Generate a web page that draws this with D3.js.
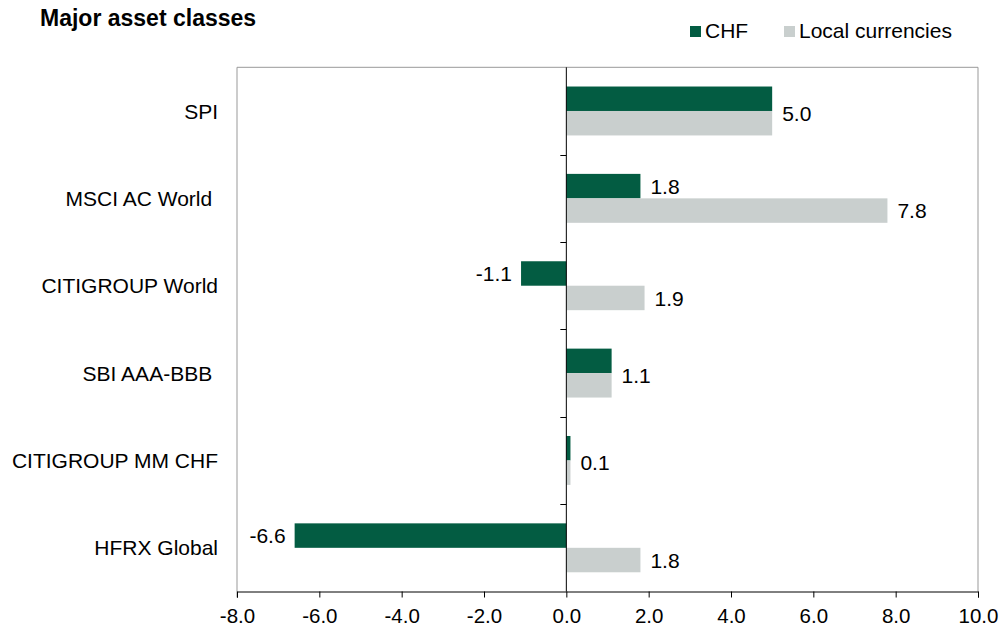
<!DOCTYPE html>
<html>
<head>
<meta charset="utf-8">
<script src="https://cdn.jsdelivr.net/npm/d3@7"></script>
<style>
  body { margin: 0; background: #fff; }
  text { font-family: "Liberation Sans", Arial, sans-serif; fill: #000; }
</style>
</head>
<body>
<svg id="chart" width="1000" height="633"></svg>
<script>
// chart data
const categories = ["SPI", "MSCI AC World ", "CITIGROUP World", "SBI AAA-BBB ", "CITIGROUP MM CHF", "HFRX Global"];
const chfValues = [5.0, 1.8, -1.1, 1.1, 0.1, -6.6];
const localValues = [5.0, 7.8, 1.9, 1.1, 0.1, 1.8];
const seriesNames = ["CHF", "Local currencies"];
const seriesColors = ["#035c42", "#c9cfce"];
const xTicks = [-8, -6, -4, -2, 0, 2, 4, 6, 8, 10];

const svg = d3.select("#chart");
const plotLeft = 237, plotRight = 978, plotTop = 67.3, plotBottom = 591.5;

const x = d3.scaleLinear().domain([-8, 10]).range([plotLeft, plotRight]);
const y = d3.scaleBand().domain(categories).range([plotTop, plotBottom]);
const bw = y.bandwidth();
const y1 = d3.scaleBand().domain(seriesNames).range([bw * 0.22, bw * 0.78]);

const rows = categories.map((c, i) => ({ cat: c, chf: chfValues[i], local: localValues[i] }));

// frame
svg.append("line").attr("x1", plotLeft).attr("x2", plotLeft).attr("y1", plotTop).attr("y2", plotBottom + 6)
  .attr("stroke", "#999");
svg.append("line").attr("x1", plotLeft).attr("x2", plotRight).attr("y1", plotTop).attr("y2", plotTop)
  .attr("stroke", "#999");
svg.append("line").attr("x1", plotRight).attr("x2", plotRight).attr("y1", plotTop).attr("y2", plotBottom)
  .attr("stroke", "#999");

// bars
const groups = svg.append("g").selectAll("g")
  .data(rows)
  .enter()
  .append("g")
  .attr("transform", d => `translate(0,${y(d.cat)})`);

seriesNames.forEach((s, si) => {
  groups.append("rect")
    .attr("x", d => x(Math.min(0, si === 0 ? d.chf : d.local)))
    .attr("y", y1(s))
    .attr("width", d => Math.abs(x(si === 0 ? d.chf : d.local) - x(0)))
    .attr("height", y1.bandwidth())
    .attr("fill", seriesColors[si]);
});

// data labels (one label in between when both series are equal)
function addLabel(g, v, yy) {
  g.append("text")
    .attr("x", v < 0 ? x(v) - 9 : x(v) + 10)
    .attr("y", yy)
    .attr("dy", "0.36em")
    .attr("text-anchor", v < 0 ? "end" : "start")
    .style("font-size", "21px")
    .text(v.toFixed(1));
}
groups.each(function (d) {
  const g = d3.select(this);
  if (d.chf === d.local) {
    addLabel(g, d.chf, bw / 2 + 2);
  } else {
    addLabel(g, d.chf, y1("CHF") + y1.bandwidth() / 2);
    addLabel(g, d.local, y1("Local currencies") + y1.bandwidth() / 2);
  }
});

// zero line with category ticks
svg.append("line").attr("x1", x(0)).attr("x2", x(0)).attr("y1", plotTop).attr("y2", plotBottom)
  .attr("stroke", "#000");
svg.append("g").selectAll("line")
  .data(categories.slice(1))
  .enter()
  .append("line")
  .attr("x1", x(0) - 6).attr("x2", x(0))
  .attr("y1", d => Math.round(y(d)) + 0.5).attr("y2", d => Math.round(y(d)) + 0.5)
  .attr("stroke", "#000");

// category labels
svg.append("g").selectAll("text")
  .data(categories)
  .enter()
  .append("text")
  .attr("x", 218)
  .attr("y", d => y(d) + bw / 2)
  .attr("dy", "0.36em")
  .attr("text-anchor", "end")
  .style("white-space", "pre")
  .style("font-size", "21px")
  .text(d => d);

// x axis
const xAxis = svg.append("g")
  .attr("transform", `translate(0,${plotBottom})`)
  .call(d3.axisBottom(x).tickValues(xTicks).tickSize(6).tickPadding(11).tickFormat(d => d.toFixed(1)));
xAxis.select(".domain").attr("stroke", "#000");
xAxis.selectAll(".tick line").attr("stroke", "#000");
xAxis.selectAll(".tick text")
  .style("font-family", "'Liberation Sans', Arial, sans-serif")
  .style("font-size", "20.5px")
  .attr("fill", "#000");

// title
svg.append("text")
  .attr("x", 40).attr("y", 26)
  .style("font-size", "23px")
  .style("font-weight", "bold")
  .text("Major asset classes");

// legend
const legendX = [690, 784];
seriesNames.forEach((s, i) => {
  svg.append("rect")
    .attr("x", legendX[i]).attr("y", 26)
    .attr("width", 11).attr("height", 11)
    .attr("fill", seriesColors[i]);
  svg.append("text")
    .attr("x", legendX[i] + 15).attr("y", 38)
    .style("font-size", "21px")
    .text(s);
});
</script>
</body>
</html>
